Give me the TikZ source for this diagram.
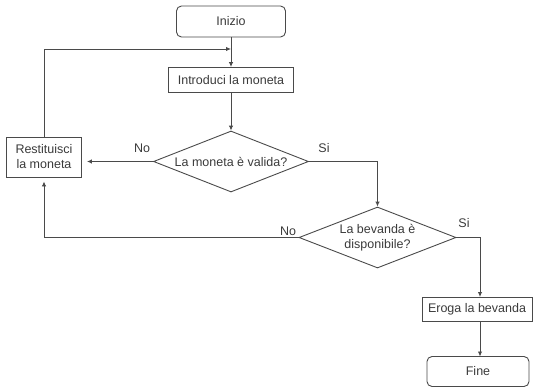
\documentclass[tikz,border=0pt]{standalone}
\usepackage{fontspec}
\setmainfont{Liberation Sans}
\usetikzlibrary{shapes.geometric,arrows.meta}
\definecolor{ln}{HTML}{4A4A4A}
\definecolor{tx}{HTML}{3A3A3A}
\begin{document}
\begin{tikzpicture}[x=1pt,y=-1pt,
 font=\fontsize{12.5}{15}\selectfont,
 every node/.style={text=tx},
 box/.style={draw=ln,line width=0.9pt,inner sep=0pt,align=center},
 term/.style={box,rounded corners=5pt},
 dec/.style={draw=ln,line width=0.9pt,diamond,aspect=2.5,inner sep=0pt,align=center},
 arr/.style={draw=ln,line width=0.9pt,-{Latex[length=5pt,width=4.5pt]}},
 lin/.style={draw=ln,line width=0.9pt},
 lab/.style={inner sep=0pt}]
\useasboundingbox (0,0) rectangle (533,388);
\node[term,minimum width=109pt,minimum height=31pt] (start) at (231,21.5) {Inizio};
\node[box,minimum width=125pt,minimum height=25pt] (intro) at (231,80) {Introduci la moneta};
\node[dec,minimum width=155pt,minimum height=61pt] (d1) at (231,161.5) {La moneta è valida?};
\node[box,minimum width=75pt,minimum height=40pt] (rest) at (44,157) {Restituisci\\la moneta};
\node[dec,minimum width=157pt,minimum height=61pt] (d2) at (377.5,237.5) {La bevanda è\\disponibile?};
\node[box,minimum width=110pt,minimum height=24pt] (eroga) at (477,309) {Eroga la bevanda};
\node[term,minimum width=102pt,minimum height=30pt] (fine) at (478,371.5) {Fine};
\coordinate (j) at (231,49);
\coordinate (ea) at (480,297);
\coordinate (eb) at (480,321);
\coordinate (fa) at (480,356.5);
\node[lab] (no1) at (142,148) {No};
\node[lab] (si1) at (324,148) {Si};
\node[lab] (no2) at (288,231) {No};
\node[lab] (si2) at (464,223) {Si};
\draw[arr] (start.south) -- (intro.north);
\draw[arr] (rest.north) |- (j);
\draw[arr] (intro.south) -- (d1.north);
\draw[arr,shorten >=5pt] (d1.west) -- (d1.west -| rest.east);
\draw[arr] (d1.east) -| (d2.north);
\draw[arr,shorten >=4pt] (d2.west) -| (rest.south);
\draw[arr] (d2.east) -| (ea);
\draw[arr] (eb) -- (fa);
\end{tikzpicture}
\end{document}
